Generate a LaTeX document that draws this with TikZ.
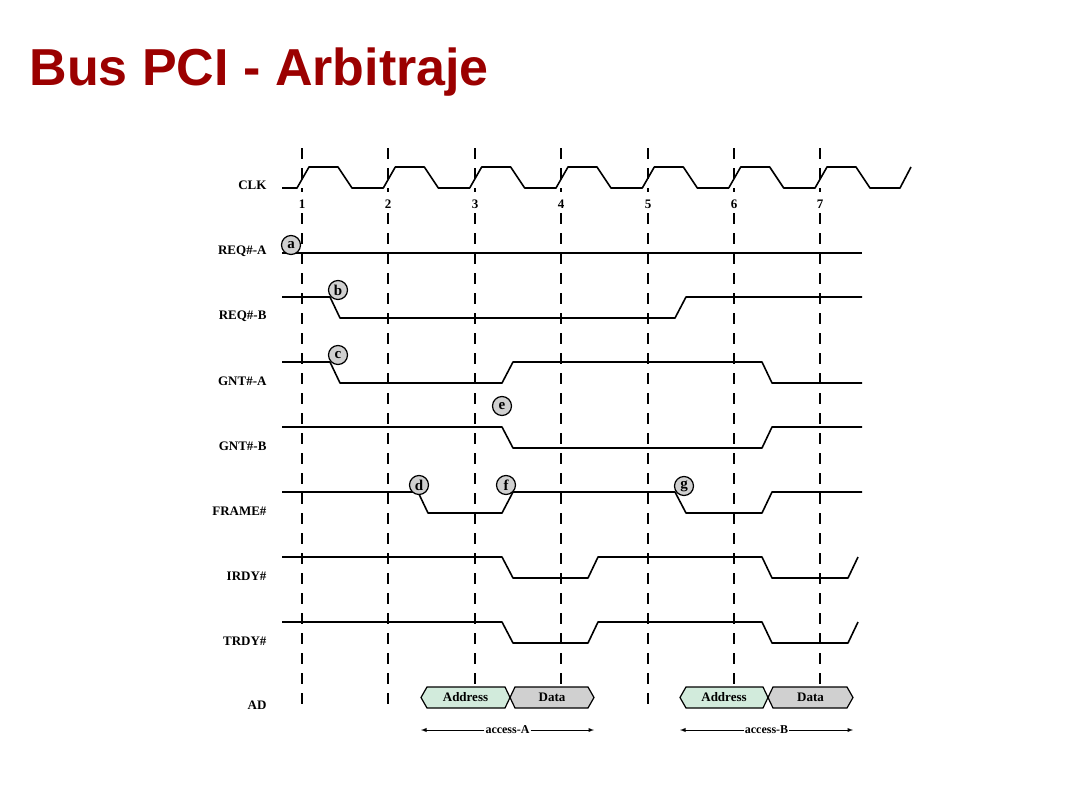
\documentclass[tikz,border=0pt]{standalone}
\usepackage{fontspec}
\setmainfont{Liberation Serif}
\newfontfamily\titlefont{Liberation Sans}
\definecolor{titlered}{RGB}{155,0,0}
\definecolor{addrgreen}{RGB}{210,235,220}
\definecolor{datagray}{RGB}{208,208,208}
\begin{document}
\begin{tikzpicture}[x=1pt,y=-1pt,
  sig/.style={line width=1.6pt,line join=round},
  grid/.style={line width=1.6pt,dash pattern=on 11pt off 9pt},
  lbl/.style={anchor=east,font=\bfseries\fontsize{13}{15}\selectfont},
  num/.style={font=\bfseries\fontsize{13}{15}\selectfont},
  evmark/.style={circle,draw,line width=1.2pt,fill=datagray,inner sep=0pt,minimum size=19pt,font=\bfseries\fontsize{15}{17}\selectfont},
  hexa/.style={draw,line width=1.2pt},
  hexl/.style={font=\bfseries\fontsize{13}{15}\selectfont}]
\useasboundingbox (0,0) rectangle (1066,800);
\node[anchor=base west,text=titlered,font=\titlefont\bfseries\fontsize{52}{60}\selectfont] (title) at (26,85) {Bus PCI - Arbitraje};
% grid
\foreach \x/\n/\e in {302/1/710,388/2/710,475/3/687,561/4/687,648/5/710,734/6/687,820/7/687}{
  \draw[grid] (\x,148) -- (\x,192);
  \draw[grid] (\x,213) -- (\x,\e);
  \node[num] (n\n) at (\x,204) {\n};
}
% labels
\foreach \y/\t/\k in {185/CLK/clk,251/REQ\#-A/ra,316/REQ\#-B/rb,381/GNT\#-A/ga,446/GNT\#-B/gb,511/FRAME\#/fr,576/IRDY\#/ir,641/TRDY\#/tr,705/AD/ad}{
  \node[lbl] (l\k) at (270,\y) {\t};
}
% CLK
\draw[sig] (282,188)
  \foreach \c in {302,388.3,474.7,561,647.3,733.7,820}{ -- (\c-5,188) -- (\c+7,167) -- (\c+36,167) -- (\c+50,188)}
  -- (900,188) -- (911,167);
% REQ#-A
\draw[sig,line width=2.2pt] (282,253) -- (862,253);
% REQ#-B
\draw[sig] (282,297) -- (330,297) -- (340,318) -- (675,318) -- (686,297) -- (862,297);
% GNT#-A
\draw[sig] (282,362) -- (330,362) -- (340,383) -- (502,383) -- (513,362) -- (762,362) -- (772,383) -- (862,383);
% GNT#-B
\draw[sig] (282,427) -- (502,427) -- (513,448) -- (762,448) -- (772,427) -- (862,427);
% FRAME#
\draw[sig] (282,492) -- (418,492) -- (428,513) -- (502,513) -- (513,492) -- (675,492) -- (686,513) -- (762,513) -- (772,492) -- (862,492);
% IRDY#
\draw[sig] (282,557) -- (502,557) -- (513,578) -- (588,578) -- (598,557) -- (762,557) -- (772,578) -- (848,578) -- (858,557);
% TRDY#
\draw[sig] (282,622) -- (502,622) -- (513,643) -- (588,643) -- (598,622) -- (762,622) -- (772,643) -- (848,643) -- (858,622);
% markers
\node[evmark] (ma) at (291,245) {a};
\node[evmark] (mb) at (338,290) {b};
\node[evmark] (mc) at (338,355) {c};
\node[evmark] (md) at (419,485) {d};
\node[evmark] (me) at (502,406) {e};
\node[evmark] (mf) at (506,485) {f};
\node[evmark] (mg) at (684,486) {g};
% AD boxes
\foreach \a/\b/\c/\k in {421/510/594/A,680/768/853/B}{
  \draw[hexa,fill=addrgreen] (\a,697.5) -- (\a+6,687) -- (\b-5,687) -- (\b,697.5) -- (\b-5,708) -- (\a+6,708) -- cycle;
  \draw[hexa,fill=datagray] (\b,697.5) -- (\b+5,687) -- (\c-6,687) -- (\c,697.5) -- (\c-6,708) -- (\b+5,708) -- cycle;
  \node[hexl] (addr\k) at ({(\a+\b)/2},697) {Address};
  \node[hexl] (data\k) at ({(\b+\c)/2},697) {Data};
  \coordinate (s\k) at (\a,730);
  \coordinate (e\k) at (\c,730);
  \node[font=\bfseries\fontsize{12}{14}\selectfont,fill=white,inner sep=1pt] (acc\k) at ({(\a+\c)/2},730) {access-\k};
  \draw[-latex,line width=0.9pt] (acc\k.west) -- (s\k);
  \draw[-latex,line width=0.9pt] (acc\k.east) -- (e\k);
}
\end{tikzpicture}
\end{document}
